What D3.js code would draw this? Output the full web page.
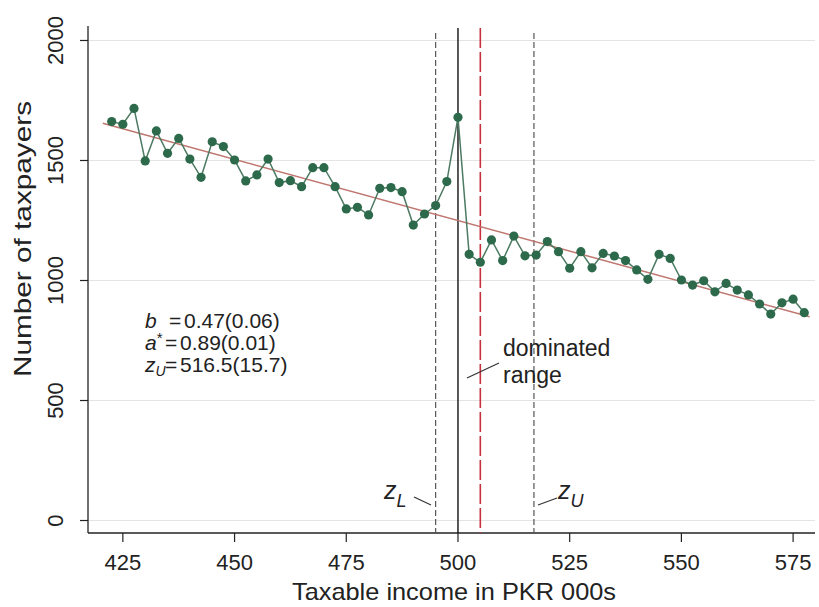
<!DOCTYPE html>
<html>
<head>
<meta charset="utf-8">
<script src="https://cdn.jsdelivr.net/npm/d3@7"></script>
<style>
  body { margin: 0; background: #fff; }
  svg text { font-family: "Liberation Sans", Arial, Helvetica, sans-serif; fill: #222; }
</style>
</head>
<body>
<div id="chart"></div>
<script>
// bin midpoints, PKR 000s
const incomes = [422.5, 425, 427.5, 430, 432.5, 435, 437.5, 440, 442.5, 445,
  447.5, 450, 452.5, 455, 457.5, 460, 462.5, 465, 467.5, 470,
  472.5, 475, 477.5, 480, 482.5, 485, 487.5, 490, 492.5, 495,
  497.5, 500, 502.5, 505, 507.5, 510, 512.5, 515, 517.5, 520,
  522.5, 525, 527.5, 530, 532.5, 535, 537.5, 540, 542.5, 545,
  547.5, 550, 552.5, 555, 557.5, 560, 562.5, 565, 567.5, 570,
  572.5, 575, 577.5];
const taxpayers = [1662, 1651, 1717, 1498, 1623, 1530, 1592, 1506, 1430, 1578,
  1558, 1502, 1415, 1440, 1506, 1408, 1416, 1391, 1470, 1470,
  1391, 1298, 1305, 1273, 1384, 1387, 1370, 1231, 1277, 1312,
  1412, 1680, 1109, 1076, 1169, 1083, 1185, 1103, 1106, 1162,
  1120, 1051, 1120, 1053, 1113, 1102, 1083, 1044, 1005, 1109,
  1092, 1002, 981, 999, 953, 988, 960, 940, 902, 860,
  907, 922, 866];

// counterfactual fit
const fitX = [420.5, 578.7];
const fitY = [1655, 849];

const xTicks = [425, 450, 475, 500, 525, 550, 575];
const yTicks = [0, 500, 1000, 1500, 2000];

// reference lines: z_L, threshold, dominated-range end, z_U
const zL = 495, kink = 500, domEnd = 505, zU = 517;

const stats = [
  {v: "b", sup: "", sub: "", val: "0.47(0.06)"},
  {v: "a", sup: "*", sub: "", val: "0.89(0.01)"},
  {v: "z", sup: "", sub: "U", val: "516.5(15.7)"}
];

const W = 819, H = 607;
const svg = d3.select("#chart").append("svg").attr("width", W).attr("height", H);

const x = d3.scaleLinear().domain([417.2, 579.9]).range([88, 815]);
const y = d3.scaleLinear().domain([-52, 2052]).range([533, 28]);

// gridlines
svg.append("g").selectAll("line").data(yTicks).enter().append("line")
  .attr("x1", x.range()[0]).attr("x2", x.range()[1])
  .attr("y1", d => y(d)).attr("y2", d => y(d))
  .attr("stroke", "#e4e4e4").attr("stroke-width", 1);

// axes
svg.append("line").attr("x1", 88).attr("x2", 88).attr("y1", 26).attr("y2", 533)
  .attr("stroke", "#222").attr("stroke-width", 1.3);
svg.append("line").attr("x1", 88).attr("x2", 815).attr("y1", 533).attr("y2", 533)
  .attr("stroke", "#222").attr("stroke-width", 1.3);

svg.append("g").selectAll("line").data(yTicks).enter().append("line")
  .attr("x1", 80).attr("x2", 88).attr("y1", d => y(d)).attr("y2", d => y(d))
  .attr("stroke", "#222").attr("stroke-width", 1.2);
svg.append("g").selectAll("text").data(yTicks).enter().append("text")
  .attr("transform", d => `translate(63,${y(d)}) rotate(-90)`)
  .attr("text-anchor", "middle").attr("font-size", 22).text(d => d);

svg.append("g").selectAll("line").data(xTicks).enter().append("line")
  .attr("x1", d => x(d)).attr("x2", d => x(d)).attr("y1", 533).attr("y2", 542)
  .attr("stroke", "#222").attr("stroke-width", 1.2);
svg.append("g").selectAll("text").data(xTicks).enter().append("text")
  .attr("x", d => x(d)).attr("y", 570)
  .attr("text-anchor", "middle").attr("font-size", 22).text(d => d);

svg.append("text").attr("x", 454).attr("y", 600).attr("text-anchor", "middle")
  .attr("font-size", 24).attr("textLength", 324).attr("lengthAdjust", "spacingAndGlyphs")
  .text("Taxable income in PKR 000s");
svg.append("text").attr("transform", "translate(31,239) rotate(-90)")
  .attr("text-anchor", "middle").attr("font-size", 24)
  .attr("textLength", 276).attr("lengthAdjust", "spacingAndGlyphs")
  .text("Number of taxpayers");

// vertical reference lines
const vline = (v, top, stroke, dash, w) => {
  svg.append("line").attr("x1", x(v)).attr("x2", x(v)).attr("y1", top).attr("y2", 533)
    .attr("stroke", stroke).attr("stroke-width", w)
    .attr("stroke-dasharray", dash);
};
vline(zL, 33, "#555", "6,3", 1.2);
vline(zU, 33, "#555", "6,3", 1.2);
vline(kink, 28, "#111", null, 1.4);
vline(domEnd, 28, "#c6313d", "20,4", 1.6);

// fit line
svg.append("line")
  .attr("x1", x(fitX[0])).attr("y1", y(fitY[0]))
  .attr("x2", x(fitX[1])).attr("y2", y(fitY[1]))
  .attr("stroke", "#bf766e").attr("stroke-width", 1.5);

// connected scatter
const pts = incomes.map((v, i) => [v, taxpayers[i]]);
svg.append("path").datum(pts)
  .attr("d", d3.line().x(d => x(d[0])).y(d => y(d[1])))
  .attr("fill", "none").attr("stroke", "#4c7a62").attr("stroke-width", 1.5);
svg.append("g").selectAll("circle").data(pts).enter().append("circle")
  .attr("cx", d => x(d[0])).attr("cy", d => y(d[1])).attr("r", 4.6)
  .attr("fill", "#2d6a4b");

// estimates box
const st = svg.append("g").attr("font-size", 21);
stats.forEach((s, i) => {
  const by = 328 + i * 22;
  const t = st.append("text").attr("x", 145).attr("y", by);
  t.append("tspan").attr("font-style", "italic").text(s.v);
  if (s.sup) t.append("tspan").attr("font-size", 15).attr("dy", -7).text(s.sup);
  if (s.sub) t.append("tspan").attr("font-style", "italic").attr("font-size", 14).attr("dy", 4).text(s.sub);
  st.append("text").attr("x", i === 0 ? 169 : 165).attr("y", by).text("=");
  st.append("text").attr("x", i === 0 ? 184 : 180).attr("y", by).text(s.val);
});

// dominated range label
svg.append("line").attr("x1", 467).attr("y1", 378).attr("x2", 499).attr("y2", 363)
  .attr("stroke", "#333").attr("stroke-width", 1.2);
svg.append("text").attr("x", 503).attr("y", 356).attr("font-size", 23).text("dominated");
svg.append("text").attr("x", 503).attr("y", 383).attr("font-size", 23).text("range");

// z_L label
svg.append("line").attr("x1", 414).attr("y1", 497).attr("x2", 431).attr("y2", 505)
  .attr("stroke", "#333").attr("stroke-width", 1.2);
const tl = svg.append("text").attr("x", 384).attr("y", 499).attr("font-size", 25);
tl.append("tspan").attr("font-style", "italic").text("z");
tl.append("tspan").attr("font-style", "italic").attr("font-size", 18).attr("dy", 8).text("L");

// z_U label
svg.append("line").attr("x1", 538).attr("y1", 505).attr("x2", 557).attr("y2", 498)
  .attr("stroke", "#333").attr("stroke-width", 1.2);
const tu = svg.append("text").attr("x", 558).attr("y", 499).attr("font-size", 25);
tu.append("tspan").attr("font-style", "italic").text("z");
tu.append("tspan").attr("font-style", "italic").attr("font-size", 18).attr("dy", 8).text("U");
</script>
</body>
</html>
